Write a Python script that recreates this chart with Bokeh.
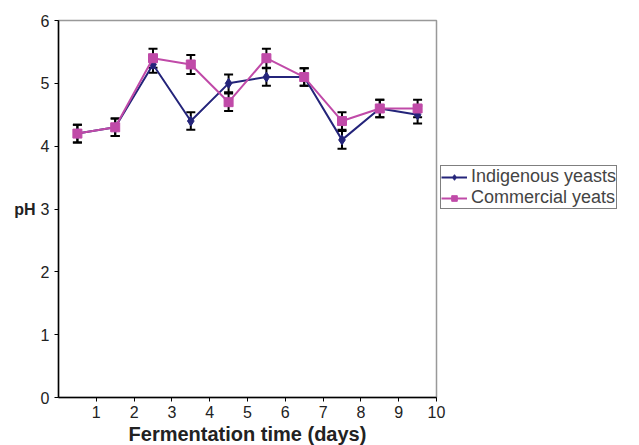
from bokeh.plotting import figure
from bokeh.models import ColumnDataSource, Whisker, TeeHead, Legend, LegendItem, FixedTicker
from bokeh.embed import file_html
from bokeh.resources import INLINE

days = [0.5, 1.5, 2.5, 3.5, 4.5, 5.5, 6.5, 7.5, 8.5, 9.5]
indigenous = [4.2, 4.3, 5.3, 4.4, 5.0, 5.1, 5.1, 4.1, 4.6, 4.5]
commercial = [4.2, 4.3, 5.4, 5.3, 4.7, 5.4, 5.1, 4.4, 4.6, 4.6]
err_ind = [0.14, 0.14, 0.13, 0.14, 0.14, 0.14, 0.14, 0.14, 0.14, 0.14]
err_com = [0.14, 0.14, 0.15, 0.15, 0.14, 0.15, 0.14, 0.14, 0.14, 0.14]
x_ticks = [1, 2, 3, 4, 5, 6, 7, 8, 9, 10]
y_ticks = [0, 1, 2, 3, 4, 5, 6]

NAVY = "#24247a"
MAG = "#c04aa8"
FONT = "Liberation Sans"

p = figure(frame_width=378, frame_height=377, x_range=(0, 10), y_range=(0, 6),
           output_backend="svg", toolbar_location=None,
           min_border_left=58, min_border_right=0, min_border_top=20, min_border_bottom=48)
p.xgrid.visible = False
p.ygrid.visible = False
p.outline_line_color = "#999999"
p.outline_line_width = 1.5

src_i = ColumnDataSource(dict(x=days, y=indigenous,
                              lo=[v - e for v, e in zip(indigenous, err_ind)],
                              hi=[v + e for v, e in zip(indigenous, err_ind)]))
src_c = ColumnDataSource(dict(x=days, y=commercial,
                              lo=[v - e for v, e in zip(commercial, err_com)],
                              hi=[v + e for v, e in zip(commercial, err_com)]))

for s in (src_i, src_c):
    w = Whisker(source=s, base="x", lower="lo", upper="hi", line_color="black", line_width=2,
                upper_head=TeeHead(size=9, line_color="black", line_width=2),
                lower_head=TeeHead(size=9, line_color="black", line_width=2))
    p.add_layout(w)

li = p.line("x", "y", source=src_i, line_color=NAVY, line_width=2)
mi = p.scatter("x", "y", source=src_i, marker="diamond", size=10, fill_color=NAVY, line_color=NAVY)
lc = p.line("x", "y", source=src_c, line_color=MAG, line_width=2)
mc = p.scatter("x", "y", source=src_c, marker="square", size=9, fill_color=MAG, line_color=MAG)

legend = Legend(items=[LegendItem(label="Indigenous yeasts", renderers=[li, mi]),
                       LegendItem(label="Commercial yeats", renderers=[lc, mc])],
                location=(4, 188), border_line_color="black", border_line_width=1,
                label_text_font=FONT, label_text_font_size="18px", label_standoff=4,
                glyph_width=26, glyph_height=14, spacing=0, padding=0, margin=0,
                label_height=14, background_fill_alpha=1)
p.add_layout(legend, "right")

p.xaxis.ticker = FixedTicker(ticks=x_ticks)
p.yaxis.ticker = FixedTicker(ticks=y_ticks)
for ax in (p.xaxis[0], p.yaxis[0]):
    ax.axis_line_color = "black"
    ax.axis_line_width = 1.5
    ax.major_tick_line_color = "black"
    ax.major_tick_out = 4
    ax.major_tick_in = 0
    ax.minor_tick_line_color = None
    ax.major_label_text_font = FONT
    ax.major_label_text_font_size = "16px"
    ax.major_label_text_color = "#222222"
    ax.axis_label_text_font = FONT
    ax.axis_label_text_font_style = "bold"
    ax.axis_label_text_color = "#222222"

p.xaxis.axis_label = "Fermentation time (days)"
p.xaxis.axis_label_text_font_size = "20px"
p.xaxis.axis_label_standoff = 2
p.xaxis.major_label_standoff = 4
p.yaxis.axis_label = "pH"
p.yaxis.axis_label_text_font_size = "16px"
p.yaxis.axis_label_orientation = "horizontal"
p.yaxis.axis_label_standoff = 2
p.yaxis.major_label_standoff = 5

open("out.html", "w").write(file_html(p, INLINE))
